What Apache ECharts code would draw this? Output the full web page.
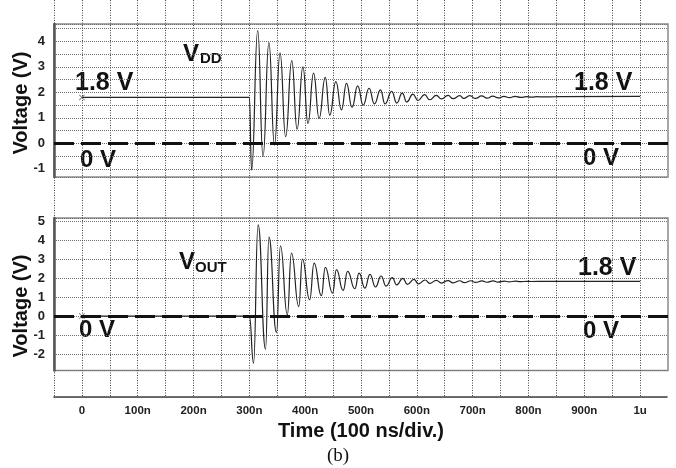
<!DOCTYPE html>
<html>
<head>
<meta charset="utf-8">
<script src="https://cdn.jsdelivr.net/npm/echarts@6/dist/echarts.min.js"></script>
<style>
html, body { margin: 0; padding: 0; background: #fff; }
#chart { width: 676px; height: 468px; }
</style>
</head>
<body>
<div id="chart"></div>
<script>
// time axis tick labels (ns)
var timeTicks = [0, 100, 200, 300, 400, 500, 600, 700, 800, 900, 1000];
var timeLabels = ['0', '100n', '200n', '300n', '400n', '500n', '600n', '700n', '800n', '900n', '1u'];
var vddTicks = [-1, 0, 1, 2, 3, 4];
var voutTicks = [-2, -1, 0, 1, 2, 3, 4, 5];

// VDD waveform, peaks and troughs
var vddTime = [0, 300, 304, 315, 324.5, 335, 345, 355, 365, 376, 385.5, 396, 405, 415, 425, 436, 444, 455, 465, 474, 484, 494, 504,
  514.5, 524, 535, 543, 555, 564, 574, 582, 593, 602, 614, 623, 635, 644, 656, 665, 677, 684, 695, 705, 716, 726, 736, 746,
  756, 766, 776, 786, 796, 806, 816, 826, 850, 1000];
var vddVolt = [1.8, 1.8, -1.05, 4.42, -0.52, 3.95, -0.07, 3.55, 0.26, 3.24, 0.56, 3.0, 0.78, 2.75, 0.98, 2.59, 1.11, 2.42, 1.31, 2.35, 1.41, 2.25, 1.50,
  2.16, 1.55, 2.10, 1.55, 2.04, 1.58, 1.97, 1.62, 1.93, 1.68, 1.91, 1.71, 1.88, 1.74, 1.88, 1.75, 1.87, 1.76, 1.87, 1.76, 1.86, 1.77, 1.85, 1.78,
  1.84, 1.79, 1.84, 1.80, 1.83, 1.81, 1.83, 1.82, 1.83, 1.84];

// VOUT waveform
var voutTime = [0, 300, 307.5, 315.6, 329, 335, 348.6, 355.7, 368, 375.4, 388.5, 395, 408, 416, 429, 436, 449, 456, 468, 476, 489, 496.6,
  507, 516, 526, 536, 545, 556, 564, 575, 583, 595, 603, 615, 623, 635, 644, 656, 665, 677, 685, 697, 705, 717, 725, 737, 745,
  757, 765, 777, 785, 797, 805, 830, 1000];
var voutVolt = [0, 0, -2.47, 4.8, -1.74, 4.16, -0.86, 3.7, 0.07, 3.32, 0.5, 3.0, 0.86, 2.79, 1.07, 2.56, 1.21, 2.44, 1.35, 2.35, 1.44, 2.26,
  1.47, 2.2, 1.53, 2.11, 1.58, 2.02, 1.64, 1.99, 1.67, 1.93, 1.70, 1.90, 1.72, 1.88, 1.74, 1.87, 1.75, 1.86, 1.76, 1.86, 1.77, 1.85, 1.78, 1.85, 1.79,
  1.84, 1.80, 1.84, 1.81, 1.83, 1.82, 1.83, 1.83];

var FONT = '"Liberation Sans", Arial, sans-serif';
var cross = 'path://M0,1L1,0L5,4L9,0L10,1L6,5L10,9L9,10L5,6L1,10L0,9L4,5Z';

function pairs(ts, vs) {
    return ts.map(function (t, i) { return [t, vs[i]]; });
}

function panelY(idx, min, max, split, ticks) {
    return {
        gridIndex: idx, type: 'value', min: min, max: max, splitNumber: split,
        axisLine: { show: true, onZero: false, lineStyle: { color: '#555', width: 2.5 } },
        axisTick: { show: false },
        splitLine: { show: true, lineStyle: { color: '#707070', type: [1, 1], width: 1 } },
        axisLabel: {
            margin: 9, fontSize: 13, fontWeight: 'bold', color: '#222', fontFamily: FONT,
            formatter: function (v) { return ticks.indexOf(v) >= 0 ? String(v) : ''; }
        }
    };
}

function wave(idx, ts, vs) {
    return {
        type: 'line', xAxisIndex: idx, yAxisIndex: idx,
        data: pairs(ts, vs),
        symbol: 'none', smooth: 0.5, smoothMonotone: 'x',
        lineStyle: { color: '#222', width: 1.2 },
        markLine: {
            silent: true, symbol: 'none', label: { show: false },
            lineStyle: { color: '#111', width: 3, type: [20, 7] },
            data: [{ yAxis: 0 }]
        },
        z: 3
    };
}

function marker(idx, t, v) {
    return {
        type: 'scatter', xAxisIndex: idx, yAxisIndex: idx,
        data: [[t, v]], symbol: cross, symbolSize: 6,
        itemStyle: { color: '#555' }, z: 4
    };
}

function label(text, x, y, size) {
    return {
        type: 'text', x: x, y: y,
        style: { text: text, align: 'left', verticalAlign: 'middle', fill: '#111',
                 font: 'bold ' + size + 'px ' + FONT }
    };
}

var myChart = echarts.init(document.getElementById('chart'));

var option = {
    animation: false,
    backgroundColor: '#fff',
    grid: [
        { left: 54, right: 8, top: 0, bottom: 71, show: false },
        { left: 54, right: 8, top: 24, height: 153, show: true, borderColor: '#8a8a8a', borderWidth: 1.5, backgroundColor: 'transparent' },
        { left: 54, right: 8, top: 218, height: 152.5, show: true, borderColor: '#8a8a8a', borderWidth: 1.5, backgroundColor: 'transparent' }
    ],
    xAxis: [
        {
            gridIndex: 0, type: 'value', min: -50, max: 1050, interval: 50,
            axisLine: { show: true, onZero: false, lineStyle: { color: '#333', type: [1, 1], width: 1.5 } },
            axisTick: { show: false },
            splitLine: { show: true, showMaxLine: false, lineStyle: { color: '#444', type: [1, 1.5], width: 1 } },
            axisLabel: {
                margin: 8, fontSize: 11.5, fontWeight: 'bold', color: '#222', fontFamily: FONT,
                formatter: function (v) {
                    var i = timeTicks.indexOf(v);
                    return i >= 0 ? timeLabels[i] : '';
                }
            },
            name: 'Time (100 ns/div.)', nameLocation: 'middle', nameGap: 24,
            nameTextStyle: { fontSize: 20, fontWeight: 'bold', color: '#111', fontFamily: FONT }
        },
        { gridIndex: 1, type: 'value', min: -50, max: 1050, show: false },
        { gridIndex: 2, type: 'value', min: -50, max: 1050, show: false }
    ],
    yAxis: [
        { gridIndex: 0, type: 'value', min: 0, max: 1, show: false },
        panelY(1, -1.32, 4.68, 12, vddTicks),
        panelY(2, -2.86, 5.16, 8, voutTicks)
    ],
    series: [
        wave(1, vddTime, vddVolt),
        marker(1, vddTime[0], vddVolt[0]),
        wave(2, voutTime, voutVolt),
        marker(2, voutTime[0], voutVolt[0])
    ],
    graphic: [
        { type: 'text', x: 21, y: 103, rotation: Math.PI / 2,
          style: { text: 'Voltage (V)', align: 'center', verticalAlign: 'middle', fill: '#111', font: 'bold 20px ' + FONT } },
        { type: 'text', x: 21, y: 306, rotation: Math.PI / 2,
          style: { text: 'Voltage (V)', align: 'center', verticalAlign: 'middle', fill: '#111', font: 'bold 20px ' + FONT } },
        label('V', 183, 54, 24),
        label('DD', 200, 59, 15),
        label('1.8 V', 75, 83, 25),
        label('0 V', 80, 160, 24),
        label('1.8 V', 574, 83, 25),
        label('0 V', 583, 158, 24),
        label('V', 179, 262, 24),
        label('OUT', 195, 268, 15),
        label('0 V', 79, 330, 24),
        label('1.8 V', 578, 268, 25),
        label('0 V', 583, 331, 24),
        { type: 'text', x: 338, y: 456,
          style: { text: '(b)', align: 'center', verticalAlign: 'middle', fill: '#111', font: '19px "Liberation Serif", serif' } }
    ]
};

myChart.setOption(option);
</script>
</body>
</html>
